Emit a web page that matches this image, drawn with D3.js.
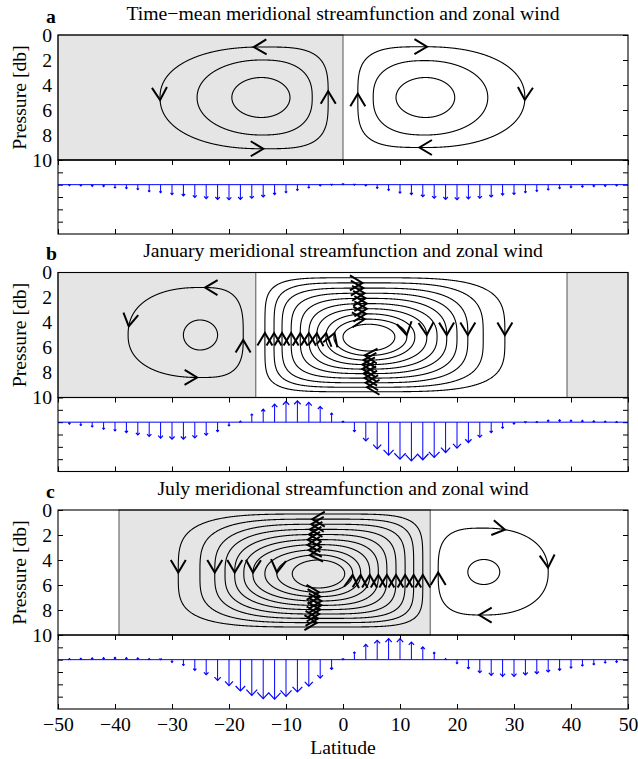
<!DOCTYPE html>
<html>
<head>
<meta charset="utf-8">
<script src="https://cdn.jsdelivr.net/npm/d3@7"></script>
<style>
  body { margin: 0; background: #fff; }
  svg { display: block; }
  text { font-family: "Liberation Serif", "Times New Roman", serif; fill: #000; }
</style>
</head>
<body>
<svg id="chart" width="638" height="759"></svg>
<script>
// ---- data -----------------------------------------------------------------
const latitudes = [-48,-46,-44,-42,-40,-38,-36,-34,-32,-30,-28,-26,-24,-22,-20,-18,-16,-14,-12,-10,-8,-6,-4,-2,0,
                   2,4,6,8,10,12,14,16,18,20,22,24,26,28,30,32,34,36,38,40,42,44,46,48];

const windMean = [-0.08,-0.10,-0.13,-0.16,-0.27,-0.32,-0.40,-0.57,-0.65,-0.80,-0.90,-1.03,-1.13,-1.19,-1.22,-1.19,-1.10,-1.00,-0.80,-0.65,-0.46,-0.27,-0.10,-0.04,0,
                  -0.03,-0.10,-0.30,-0.46,-0.68,-0.80,-0.97,-1.10,-1.19,-1.22,-1.16,-1.10,-1.00,-0.84,-0.78,-0.65,-0.54,-0.43,-0.32,-0.24,-0.19,-0.16,-0.13,-0.10];

const windJanuary = [-0.16,-0.27,-0.38,-0.57,-0.70,-0.84,-1.03,-1.16,-1.30,-1.38,-1.38,-1.27,-1.05,-0.76,-0.30,0.08,0.65,1.05,1.46,1.68,1.73,1.60,1.27,0.73,0,
                     -0.76,-1.51,-2.16,-2.68,-3.00,-3.14,-3.05,-2.86,-2.46,-2.10,-1.65,-1.22,-0.84,-0.49,-0.16,-0.03,0.05,0.16,0.19,0.16,0.14,0.11,0.08,0.05];

const windJuly = [0.08,0.11,0.14,0.16,0.19,0.16,0.14,0.08,0.00,-0.22,-0.46,-0.86,-1.22,-1.68,-2.10,-2.54,-2.89,-3.16,-3.20,-2.97,-2.62,-2.14,-1.49,-0.78,0,
                  0.62,1.24,1.57,1.70,1.70,1.43,1.03,0.60,0.08,-0.32,-0.73,-1.05,-1.27,-1.35,-1.35,-1.24,-1.14,-1.00,-0.86,-0.68,-0.51,-0.41,-0.27,-0.22];

const latitudeTicks = [-50,-40,-30,-20,-10,0,10,20,30,40,50];
const pressureTicks = [0,2,4,6,8,10];
const windTicks = [1,0,-1,-2,-3];

const panelLetters = ["a", "b", "c"];
const panelTitles = [
  "Time\u2212mean meridional streamfunction and zonal wind",
  "January meridional streamfunction and zonal wind",
  "July meridional streamfunction and zonal wind"
];

// shaded latitude bands per panel
const shadedBands = [
  [[-50, 0]],
  [[-50, -15.3], [39.3, 50]],
  [[-39.3, 15.3]]
];

// streamfunction cells: closed contours as [left lat, right lat, top p, bottom p], outermost first
// arrows: [contour index, side, latitude (top/bottom) or pressure (left/right)]
const meanCells = [
  { center: [-14.3, 5.0], sense: "ccw", shape: [2.2, 3.6],
    contours: [[-32.1, -2.6, 0.96, 9.1], [-25.6, -5.4, 2.0, 8.0], [-19.5, -9.3, 3.4, 6.6]],
    arrows: [[0, "top", -15.6], [0, "left", 5.2], [0, "bottom", -14.0], [0, "right", 4.5]] },
  { center: [14.5, 5.0], sense: "cw", shape: [3.6, 2.2],
    contours: [[2.6, 31.9, 0.94, 9.0], [5.3, 25.4, 2.05, 8.0], [9.3, 19.6, 3.4, 6.6]],
    arrows: [[0, "top", 14.7], [0, "right", 5.2], [0, "bottom", 13.4], [0, "left", 4.7]] }
];

const januaryCells = [
  { center: [-25.1, 5.0], sense: "ccw", shape: [2.3, 3.2],
    contours: [[-37.7, -17.5, 1.2, 8.4], [-28.0, -22.0, 3.8, 6.2]],
    arrows: [[0, "top", -24.2], [0, "left", 4.3], [0, "bottom", -25.6], [0, "right", 5.4]] },
  { center: [4.5, 5.15], sense: "cw", shape: [5.5, 3.8],
    contours: [[-13.7, 28.4, 0.42, 9.54], [-12.1, 24.6, 0.83, 9.18], [-10.7, 21.9, 1.25, 8.82],
               [-9.1, 20.0, 1.66, 8.45], [-7.5, 18.2, 2.07, 8.09], [-6.0, 16.5, 2.49, 7.73],
               [-4.6, 14.7, 2.90, 7.37], [-3.0, 12.6, 3.31, 7.01], [-1.6, 11.2, 3.73, 6.64],
               [0.0, 9.1, 4.14, 6.28]],
    arrows: [[0, "right", 5.0], [2, "right", 5.0], [4, "right", 5.0], [6, "right", 5.0], [8, "right", 5.0],
             [0, "left", 4.85], [1, "left", 4.85], [2, "left", 4.85], [3, "left", 4.85], [4, "left", 4.85],
             [5, "left", 4.85], [6, "left", 4.85], [7, "left", 4.85], [8, "left", 4.85],
             [1, "top", 3.4], [2, "top", 3.6], [3, "top", 3.8], [4, "top", 4.0],
             [5, "top", 4.2], [6, "top", 4.2], [7, "top", 4.0], [8, "top", 3.8],
             [1, "bottom", 4.2], [2, "bottom", 4.0], [3, "bottom", 3.8], [4, "bottom", 3.6],
             [5, "bottom", 3.4], [6, "bottom", 3.4], [7, "bottom", 3.6], [8, "bottom", 3.8]] }
];

const julyCells = [
  { center: [-4.3, 5.1], sense: "ccw", shape: [3.8, 5.5],
    contours: [[-28.9, 14.0, 0.32, 9.36], [-25.1, 12.4, 0.73, 9.01], [-22.5, 10.9, 1.14, 8.67],
               [-20.7, 9.3, 1.55, 8.32], [-19.0, 7.7, 1.96, 7.97], [-17.4, 6.2, 2.37, 7.63],
               [-15.8, 4.7, 2.77, 7.28], [-13.7, 3.1, 3.18, 6.93], [-11.6, 1.7, 3.59, 6.58],
               [-8.9, 0.3, 4.0, 6.24]],
    arrows: [[0, "left", 5.0], [2, "left", 5.0], [4, "left", 5.0], [6, "left", 5.0], [8, "left", 5.0],
             [0, "right", 5.2], [1, "right", 5.2], [2, "right", 5.2], [3, "right", 5.2], [4, "right", 5.2],
             [5, "right", 5.2], [6, "right", 5.2], [7, "right", 5.2], [8, "right", 5.2],
             [1, "top", -5.4], [2, "top", -5.6], [3, "top", -5.8], [4, "top", -6.0],
             [5, "top", -6.2], [6, "top", -6.2], [7, "top", -6.0], [8, "top", -5.8],
             [1, "bottom", -4.6], [2, "bottom", -4.4], [3, "bottom", -4.2], [4, "bottom", -4.0],
             [5, "bottom", -3.8], [6, "bottom", -3.8], [7, "bottom", -4.0], [8, "bottom", -4.2]] },
  { center: [24.7, 4.96], sense: "cw", shape: [3.2, 2.3],
    contours: [[16.7, 36.0, 1.45, 8.4], [21.9, 27.5, 3.96, 5.96]],
    arrows: [[0, "top", 28.4], [0, "right", 4.6], [0, "bottom", 23.9], [0, "left", 5.0]] }
];

const panels = [
  { cells: meanCells, wind: windMean },
  { cells: januaryCells, wind: windJanuary },
  { cells: julyCells, wind: windJuly }
];

// ---- layout ---------------------------------------------------------------
const svg = d3.select("#chart");
const x = d3.scaleLinear().domain([-50, 50]).range([58, 628]);
const panelTop = [35, 272.5, 510];
const streamH = 125, windH = 74;
const fontSize = 19.7;

function styleAxis(g) {
  g.select(".domain").remove();
  g.selectAll(".tick line").attr("stroke", "#000").attr("stroke-width", 1);
  g.selectAll("text").attr("font-family", '"Liberation Serif", "Times New Roman", serif')
    .attr("font-size", fontSize).attr("fill", "#000");
  g.attr("font-family", null).attr("font-size", null);
}

// closed contour sampled along rays from the cell centre (quadrant-wise superellipse);
// outer contours are boxier, inner ones relax towards ellipses
function contourPoints(cell, k, yP) {
  const [l, r, t, b] = cell.contours[k];
  const [cx, cy] = cell.center;
  const N = cell.contours.length;
  const f = N > 1 ? k / (N - 1) : 0;
  const w = Math.pow(1 - f, 1.6);
  const nl = 2 + (cell.shape[0] - 2) * w;
  const nr = 2 + (cell.shape[1] - 2) * w;
  const pts = [];
  const M = 1440;
  for (let i = 0; i < M; i++) {
    const phi = i / M * 2 * Math.PI;
    const c = Math.cos(phi), s = Math.sin(phi);
    const n = c >= 0 ? nr : nl;
    const rho = Math.pow(Math.pow(Math.abs(c), n) + Math.pow(Math.abs(s), n), -1 / n);
    const u = rho * c, v = rho * s;
    const lat = u >= 0 ? cx + u * (r - cx) : cx + u * (cx - l);
    const p = v >= 0 ? cy - v * (cy - t) : cy - v * (b - cy);
    pts.push({ phi, lat, p, X: x(lat), Y: yP(p) });
  }
  return pts;
}

function arrowPath(tip, dir, len, half) {
  const nx = -dir[1], ny = dir[0];
  const bx = tip[0] - dir[0] * len, by = tip[1] - dir[1] * len;
  return `M${bx + nx * half},${by + ny * half}L${tip[0]},${tip[1]}L${bx - nx * half},${by - ny * half}`;
}

panels.forEach((panel, i) => {
  const top = panelTop[i];
  const yP = d3.scaleLinear().domain([0, 10]).range([top, top + streamH]);
  const yW = d3.scaleLinear().domain([2, -4]).range([top + streamH, top + streamH + windH]);
  const g = svg.append("g");

  // title and panel letter
  g.append("text").attr("x", x(0)).attr("y", top - 15.5).attr("text-anchor", "middle")
    .attr("font-size", fontSize).text(panelTitles[i]);
  g.append("text").attr("x", 46).attr("y", top - 12.5).attr("font-weight", "bold")
    .attr("font-size", fontSize).text(panelLetters[i]);

  // pressure axis (left, labelled) and right ticks
  g.append("g").attr("transform", `translate(${x(-50)},0)`)
    .call(d3.axisLeft(yP).tickValues(pressureTicks).tickSizeInner(-5).tickSizeOuter(0).tickPadding(6))
    .call(styleAxis);
  g.append("g").attr("transform", `translate(${x(50)},0)`)
    .call(d3.axisRight(yP).tickValues(pressureTicks).tickSizeInner(-5).tickSizeOuter(0).tickFormat(""))
    .call(styleAxis);

  g.append("text")
    .attr("transform", `translate(26,${top + streamH / 2}) rotate(-90)`)
    .attr("text-anchor", "middle").attr("font-size", fontSize).text("Pressure [db]");

  // shaded bands
  g.selectAll("rect.band").data(shadedBands[i]).join("rect").attr("class", "band")
    .attr("x", d => x(d[0])).attr("width", d => x(d[1]) - x(d[0]))
    .attr("y", yP(0)).attr("height", yP(10) - yP(0))
    .attr("fill", "#e5e5e5").attr("stroke", "#555").attr("stroke-width", 1);

  // streamfunction contours and flow arrows
  panel.cells.forEach(cell => {
    const sampled = cell.contours.map((_, k) => contourPoints(cell, k, yP));
    g.selectAll(null).data(sampled).join("path")
      .attr("d", d3.line().x(d => d.X).y(d => d.Y).curve(d3.curveLinearClosed))
      .attr("fill", "none").attr("stroke", "#000").attr("stroke-width", 1.1);

    cell.arrows.forEach(([k, side, coord]) => {
      const pts = sampled[k];
      const cand = pts.map((d, idx) => ({ d, idx })).filter(({ d }) => {
        const c = Math.cos(d.phi), s = Math.sin(d.phi);
        if (side === "top") return s > 0.05;
        if (side === "bottom") return s < -0.05;
        if (side === "left") return c < -0.05;
        return c > 0.05;
      });
      const key = (side === "top" || side === "bottom") ? (d => d.lat) : (d => d.p);
      const best = d3.least(cand, a => Math.abs(key(a.d) - coord));
      const M = pts.length;
      const step = cell.sense === "ccw" ? 1 : -1;
      const a = pts[(best.idx - 3 * step + M) % M], b = pts[(best.idx + 3 * step + M) % M];
      const dx = b.X - a.X, dy = b.Y - a.Y;
      const L = Math.hypot(dx, dy) || 1;
      g.append("path").attr("d", arrowPath([best.d.X, best.d.Y], [dx / L, dy / L], 12.5, 7.5))
        .attr("fill", "none").attr("stroke", "#000").attr("stroke-width", 2)
        .attr("stroke-linejoin", "miter");
    });
  });

  // wind panel axes
  const wTop = top + streamH, wBot = top + streamH + windH;
  g.append("g").attr("transform", `translate(${x(-50)},0)`)
    .call(d3.axisLeft(yW).tickValues(windTicks).tickSizeInner(-5).tickSizeOuter(0).tickFormat(""))
    .call(styleAxis);
  g.append("g").attr("transform", `translate(${x(50)},0)`)
    .call(d3.axisRight(yW).tickValues(windTicks).tickSizeInner(-5).tickSizeOuter(0).tickFormat(""))
    .call(styleAxis);
  g.append("g").attr("transform", `translate(0,${wTop})`)
    .call(d3.axisTop(x).tickValues(latitudeTicks).tickSizeInner(-5).tickSizeOuter(0).tickFormat(""))
    .call(styleAxis);
  const bottomAxis = d3.axisBottom(x).tickValues(latitudeTicks).tickSizeInner(-5).tickSizeOuter(0).tickPadding(8);
  if (i < 2) bottomAxis.tickFormat("");
  else bottomAxis.tickFormat(d => d < 0 ? "\u2212" + Math.abs(d) : String(d));
  g.append("g").attr("transform", `translate(0,${wBot})`).call(bottomAxis).call(styleAxis);

  // zonal wind stems with arrowheads
  g.append("line").attr("x1", x(-50)).attr("x2", x(50)).attr("y1", yW(0)).attr("y2", yW(0))
    .attr("stroke", "#0000ff").attr("stroke-width", 1);
  const stems = g.selectAll(null).data(latitudes.map((lat, j) => ({ lat, v: panel.wind[j] }))).join("g");
  stems.append("line")
    .attr("x1", d => x(d.lat)).attr("x2", d => x(d.lat))
    .attr("y1", yW(0)).attr("y2", d => yW(d.v))
    .attr("stroke", "#0000ff").attr("stroke-width", 1);
  stems.append("path")
    .attr("d", d => {
      const y0 = yW(0), y1 = yW(d.v);
      const len = Math.abs(y1 - y0);
      const h = Math.max(1.2, 0.16 * len);
      const sgn = y1 >= y0 ? 1 : -1;
      return arrowPath([x(d.lat), y1], [0, sgn], h, h * 0.95);
    })
    .attr("fill", "none").attr("stroke", "#0000ff").attr("stroke-width", 1.2);

  // frames
  g.append("rect").attr("x", x(-50)).attr("y", yP(0)).attr("width", x(50) - x(-50)).attr("height", streamH)
    .attr("fill", "none").attr("stroke", "#000").attr("stroke-width", 1.1);
  g.append("rect").attr("x", x(-50)).attr("y", wTop).attr("width", x(50) - x(-50)).attr("height", windH)
    .attr("fill", "none").attr("stroke", "#000").attr("stroke-width", 1.1);
});

svg.append("text").attr("x", x(0)).attr("y", 753.5).attr("text-anchor", "middle")
  .attr("font-size", fontSize).text("Latitude");
</script>
</body>
</html>
